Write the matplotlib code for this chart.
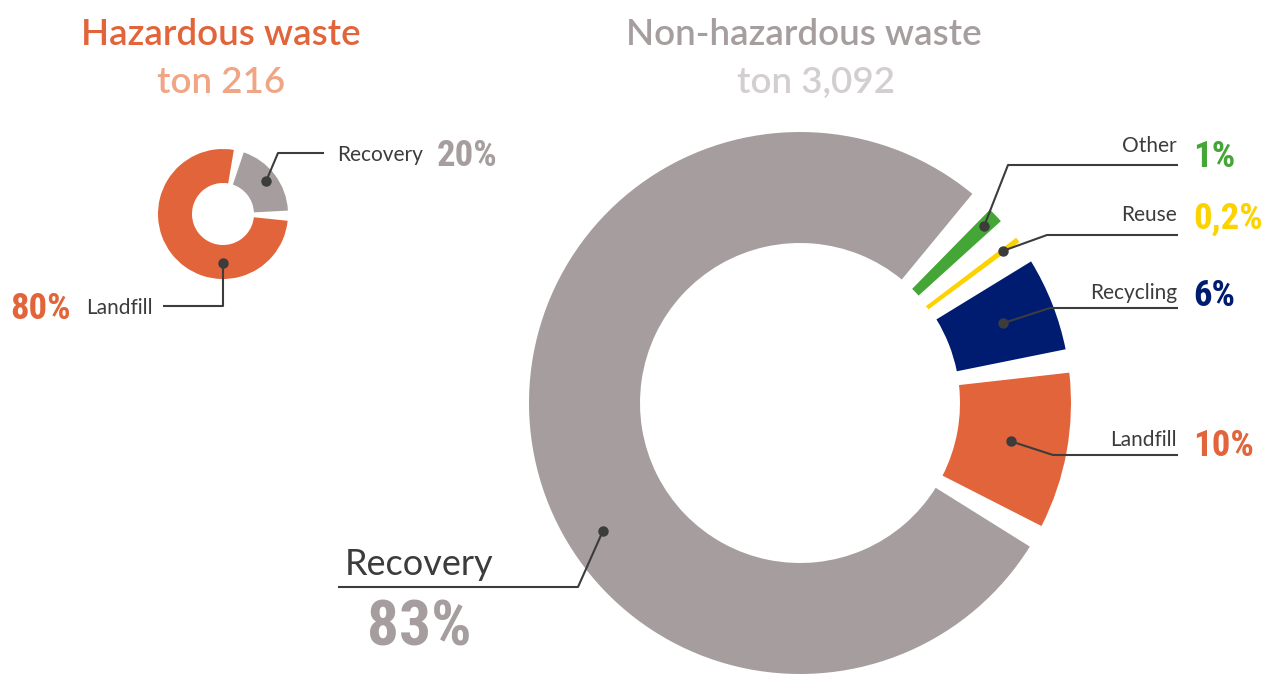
import matplotlib
matplotlib.use('Agg')
import matplotlib.pyplot as plt
from matplotlib import font_manager
import numpy as np

W, H = 1262, 674

# hazardous waste, share of 216 t
haz_labels = ['Recovery', 'Landfill']
haz_values = [20, 80]
haz_colors = ['#a69d9e', '#e2643a']
haz_total = '216'

# non-hazardous waste, share of 3,092 t
non_labels = ['Landfill', 'Recycling', 'Reuse', 'Other', 'Recovery']
non_values = [10, 6, 0.2, 1, 83]
non_colors = ['#e2643a', '#001c71', '#fcd200', '#44a637', '#a69d9e']
non_total = '3,092'

DARK = '#3c3c3c'


def pick_family(names):
    for name in names:
        try:
            font_manager.findfont(font_manager.FontProperties(family=name, weight='bold'),
                                  fallback_to_default=False)
            return name
        except ValueError:
            pass
    return 'DejaVu Sans'


TXT = pick_family(['Lato', 'Open Sans', 'DejaVu Sans'])
NUM = pick_family(['Liberation Sans Narrow', 'Roboto Condensed', 'Open Sans Condensed',
                   'Noto Sans Condensed', 'DejaVu Sans Condensed', 'Liberation Sans'])


def px(x, y):
    # pixel position (origin top-left) -> data coords
    return x, H - y


def pct(v):
    return f'{v:g}'.replace('.', ',') + '%'


def donut(ax, values, colors, center, radius, width, start, gap):
    # pie with transparent spacer slices between the real ones
    n = len(values)
    f = gap / 360
    gv = f * sum(values) / (1 - n * f)
    vals, cols = [], []
    for v, c in zip(values, colors):
        vals += [v, gv]
        cols += [c, 'none']
    wedges, _ = ax.pie(vals, colors=cols, startangle=start, counterclock=True,
                       center=center, radius=radius,
                       wedgeprops=dict(width=width, linewidth=0))
    return wedges[::2]


def leader(ax, wedge, r, pts, ang=None):
    if ang is None:
        ang = (wedge.theta1 + wedge.theta2) / 2
    cx, cy = wedge.center
    a = np.deg2rad(ang)
    xs = [cx + r * np.cos(a)] + [p[0] for p in pts]
    ys = [cy + r * np.sin(a)] + [H - p[1] for p in pts]
    ax.plot(xs, ys, color=DARK, lw=1.5, solid_capstyle='butt', zorder=5)
    ax.plot(xs[0], ys[0], 'o', color=DARK, ms=6.5, zorder=6)


fig = plt.figure(figsize=(W / 100, H / 100), dpi=100)
ax = fig.add_axes([0, 0, 1, 1])

hz = donut(ax, haz_values, haz_colors, px(223, 214), 65, 34, 3, 9)
nh = donut(ax, non_values, non_colors, px(800, 403), 271, 111, -27, 5)
# the reuse slice is too thin to see, give it an outline
nh[2].set_edgecolor(non_colors[2])
nh[2].set_linewidth(1.6)

ax.set_xlim(0, W)
ax.set_ylim(0, H)
ax.set_aspect('equal')
ax.axis('off')

# titles
TS = 26.5
ax.text(*px(221, 45), 'Hazardous waste', ha='center', va='baseline', fontsize=TS,
        family=TXT, weight='semibold', color='#e2643a')
ax.text(*px(221, 93), 'ton ' + haz_total, ha='center', va='baseline', fontsize=TS,
        family=TXT, weight='semibold', color='#f0a584')
ax.text(*px(804, 45), 'Non-hazardous waste', ha='center', va='baseline', fontsize=TS,
        family=TXT, weight='semibold', color='#a69d9e')
ax.text(*px(816, 93), 'ton ' + non_total, ha='center', va='baseline', fontsize=TS,
        family=TXT, weight='semibold', color='#d3cfcf')

LS, PS = 15, 26.5

# hazardous labels
leader(ax, hz[0], 54, [(278, 153), (324, 153)])
ax.text(*px(337, 161), haz_labels[0], ha='left', va='baseline', fontsize=LS,
        family=TXT, color=DARK)
ax.text(*px(437, 166), pct(haz_values[0]), ha='left', va='baseline', fontsize=PS,
        family=NUM, weight='bold', color=haz_colors[0])

leader(ax, hz[1], 49, [(223, 306), (163, 306)], ang=270)
ax.text(*px(153, 314), haz_labels[1], ha='right', va='baseline', fontsize=LS,
        family=TXT, color=DARK)
ax.text(*px(71, 319), pct(haz_values[1]), ha='right', va='baseline', fontsize=PS,
        family=NUM, weight='bold', color=haz_colors[1])

# non-hazardous labels on the right
right = {
    'Landfill': (214, (1053, 455), 446, 456),
    'Recycling': (218, (1050, 308), 299, 306),
    'Reuse': (254, (1047, 235), 221, 229),
    'Other': (255, (1008, 165), 152, 167),
}
for i, name in enumerate(non_labels[:4]):
    r, elbow, ty, py = right[name]
    leader(ax, nh[i], r, [elbow, (1178, elbow[1])])
    ax.text(*px(1177, ty), name, ha='right', va='baseline', fontsize=LS,
            family=TXT, color=DARK)
    ax.text(*px(1193, py), pct(non_values[i]), ha='left', va='baseline', fontsize=PS,
            family=NUM, weight='bold', color=non_colors[i])

# big recovery label
leader(ax, nh[4], 235, [(578, 587), (338, 587)], ang=213)
ax.text(*px(345, 575), non_labels[4], ha='left', va='baseline', fontsize=26,
        family=TXT, color=DARK)
ax.text(*px(367, 646), pct(non_values[4]), ha='left', va='baseline', fontsize=45.5,
        family=NUM, weight='bold', color=non_colors[4])

fig.savefig('out.png', dpi=100)
